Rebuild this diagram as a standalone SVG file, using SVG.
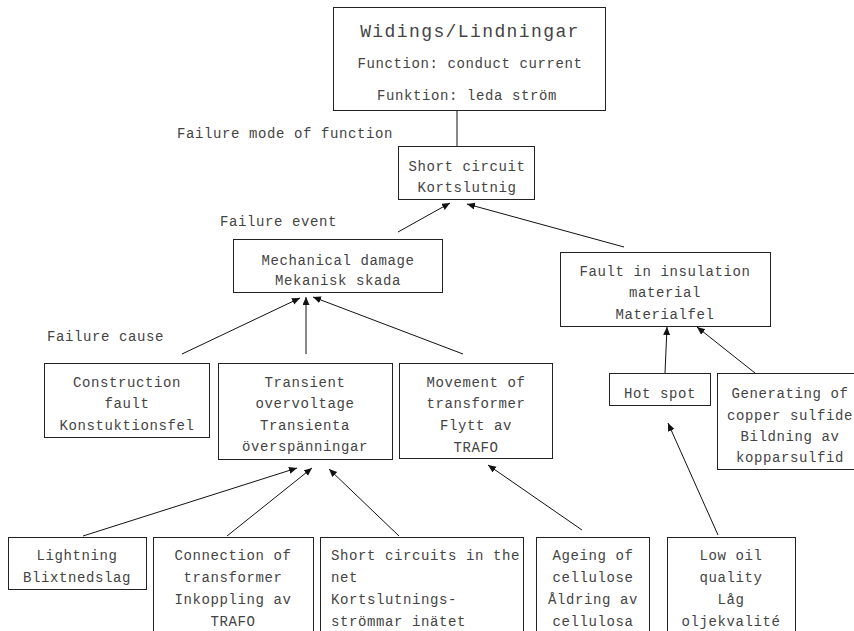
<svg xmlns="http://www.w3.org/2000/svg" width="854" height="631" viewBox="0 0 854 631">
  <style>
    .box { fill: #ffffff; stroke: #222222; stroke-width: 1; }
    .t { font-family: "Liberation Mono", "DejaVu Sans Mono", monospace; font-size: 14px; letter-spacing: 0.6px; fill: #444444; text-anchor: middle; }
    .l { text-anchor: start; }
    .title { font-size: 18px; letter-spacing: 1.4px; }
    .conn line { stroke: #111111; stroke-width: 1; }
  </style>
  <defs>
    <marker id="arrow" markerUnits="userSpaceOnUse" markerWidth="9" markerHeight="8" refX="8" refY="3.5" orient="auto">
      <path d="M0,0 L8,3.5 L0,7 z" fill="#111111"/>
    </marker>
  </defs>

  <rect width="854" height="631" fill="#ffffff"/>

  <!-- level labels -->
  <g id="labels">
    <text class="t l" x="177" y="138">Failure mode of function</text>
    <text class="t l" x="220" y="226">Failure event</text>
    <text class="t l" x="47" y="341">Failure cause</text>
  </g>

  <!-- connectors -->
  <g id="connectors" class="conn">
    <line x1="457" y1="110" x2="457" y2="146"/>
    <line x1="398" y1="232" x2="450" y2="203" marker-end="url(#arrow)"/>
    <line x1="624" y1="247" x2="467" y2="204" marker-end="url(#arrow)"/>
    <line x1="182" y1="354" x2="300" y2="298" marker-end="url(#arrow)"/>
    <line x1="306" y1="354" x2="306" y2="297" marker-end="url(#arrow)"/>
    <line x1="463" y1="354" x2="313" y2="297" marker-end="url(#arrow)"/>
    <line x1="665" y1="373" x2="667" y2="327" marker-end="url(#arrow)"/>
    <line x1="755" y1="373" x2="697" y2="327" marker-end="url(#arrow)"/>
    <line x1="582" y1="530" x2="488" y2="465" marker-end="url(#arrow)"/>
    <line x1="718" y1="535" x2="668" y2="423" marker-end="url(#arrow)"/>
    <line x1="83" y1="536" x2="297" y2="468" marker-end="url(#arrow)"/>
    <line x1="227" y1="536" x2="312" y2="468" marker-end="url(#arrow)"/>
    <line x1="399" y1="536" x2="329" y2="469" marker-end="url(#arrow)"/>
  </g>

  <!-- component and function -->
  <g id="windings">
    <rect class="box" x="333.5" y="7.5" width="272" height="103"/>
    <text class="t title" x="470" y="37">Widings/Lindningar</text>
    <text class="t" x="470" y="68">Function: conduct current</text>
    <text class="t" x="467" y="100">Funktion: leda ström</text>
  </g>

  <!-- failure mode -->
  <g id="short-circuit">
    <rect class="box" x="398.5" y="146.5" width="136" height="53"/>
    <text class="t" x="467" y="171">Short circuit</text>
    <text class="t" x="467" y="192">Kortslutnig</text>
  </g>

  <!-- failure events -->
  <g id="mechanical-damage">
    <rect class="box" x="233.5" y="239.5" width="209" height="53"/>
    <text class="t" x="338" y="265">Mechanical damage</text>
    <text class="t" x="338" y="285">Mekanisk skada</text>
  </g>

  <g id="insulation-fault">
    <rect class="box" x="560.5" y="252.5" width="210" height="74"/>
    <text class="t" x="665" y="276">Fault in insulation</text>
    <text class="t" x="665" y="297">material</text>
    <text class="t" x="665" y="319">Materialfel</text>
  </g>

  <!-- failure causes -->
  <g id="construction-fault">
    <rect class="box" x="44.5" y="363.5" width="165" height="74"/>
    <text class="t" x="127" y="387">Construction</text>
    <text class="t" x="127" y="408">fault</text>
    <text class="t" x="127" y="430">Konstuktionsfel</text>
  </g>

  <g id="transient-overvoltage">
    <rect class="box" x="218.5" y="363.5" width="174" height="96"/>
    <text class="t" x="305" y="387">Transient</text>
    <text class="t" x="305" y="408">overvoltage</text>
    <text class="t" x="305" y="430">Transienta</text>
    <text class="t" x="305" y="451">överspänningar</text>
  </g>

  <g id="transformer-movement">
    <rect class="box" x="399.5" y="363.5" width="153" height="95"/>
    <text class="t" x="476" y="387">Movement of</text>
    <text class="t" x="476" y="408">transformer</text>
    <text class="t" x="476" y="430">Flytt av</text>
    <text class="t" x="476" y="452">TRAFO</text>
  </g>

  <g id="hot-spot">
    <rect class="box" x="609.5" y="373.5" width="101" height="32"/>
    <text class="t" x="660" y="398">Hot spot</text>
  </g>

  <g id="copper-sulfide">
    <rect class="box" x="717.5" y="373.5" width="146" height="96"/>
    <text class="t" x="790" y="398">Generating of</text>
    <text class="t" x="790" y="420">copper sulfide</text>
    <text class="t" x="790" y="441">Bildning av</text>
    <text class="t" x="790" y="462">kopparsulfid</text>
  </g>

  <!-- root causes -->
  <g id="lightning">
    <rect class="box" x="8.5" y="537.5" width="138" height="52"/>
    <text class="t" x="77" y="560">Lightning</text>
    <text class="t" x="77" y="582">Blixtnedslag</text>
  </g>

  <g id="transformer-connection">
    <rect class="box" x="153.5" y="537.5" width="160" height="110"/>
    <text class="t" x="233" y="560">Connection of</text>
    <text class="t" x="233" y="582">transformer</text>
    <text class="t" x="233" y="604">Inkoppling av</text>
    <text class="t" x="233" y="626">TRAFO</text>
  </g>

  <g id="net-short-circuits">
    <rect class="box" x="320.5" y="537.5" width="203" height="110"/>
    <text class="t l" x="331" y="560">Short circuits in the</text>
    <text class="t l" x="331" y="582">net</text>
    <text class="t l" x="331" y="604">Kortslutnings-</text>
    <text class="t l" x="331" y="626">strömmar inätet</text>
  </g>

  <g id="cellulose-ageing">
    <rect class="box" x="536.5" y="537.5" width="113" height="110"/>
    <text class="t" x="593" y="560">Ageing of</text>
    <text class="t" x="593" y="582">cellulose</text>
    <text class="t" x="593" y="604">Åldring av</text>
    <text class="t" x="593" y="626">cellulosa</text>
  </g>

  <g id="low-oil-quality">
    <rect class="box" x="667.5" y="537.5" width="128" height="110"/>
    <text class="t" x="731" y="560">Low oil</text>
    <text class="t" x="731" y="582">quality</text>
    <text class="t" x="731" y="604">Låg</text>
    <text class="t" x="731" y="626">oljekvalité</text>
  </g>
</svg>
